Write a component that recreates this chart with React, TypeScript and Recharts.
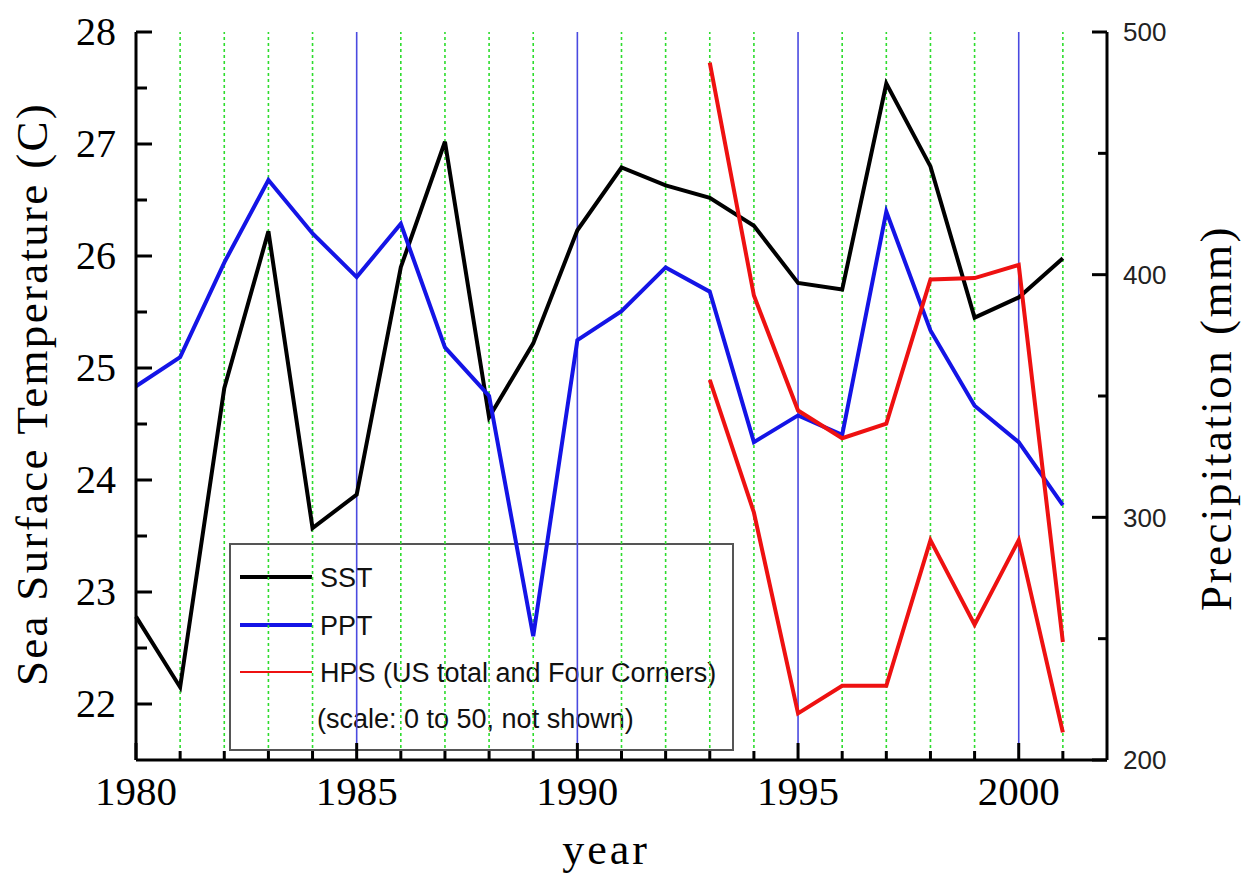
import { LineChart, Line, XAxis, YAxis, ReferenceLine, Customized } from "recharts";

// years on the x axis
const years = [
  1980, 1981, 1982, 1983, 1984, 1985, 1986, 1987, 1988, 1989, 1990,
  1991, 1992, 1993, 1994, 1995, 1996, 1997, 1998, 1999, 2000, 2001,
];

// sea surface temperature (C), left axis
const sst = [
  22.78, 22.15, 24.82, 26.22, 23.57, 23.87, 25.9, 27.02, 24.56, 25.22, 26.23,
  26.79, 26.63, 26.52, 26.27, 25.76, 25.7, 27.54, 26.8, 25.45, 25.63, 25.98,
];

// precipitation (mm), right axis
const ppt = [
  354, 366, 405, 439, 417, 399, 421, 370, 350, 251, 373,
  385, 403, 393, 331, 342, 334, 426, 377, 346, 331, 305,
];

// HPS cases, hidden 0-50 axis
const hpsYears = [1993, 1994, 1995, 1996, 1997, 1998, 1999, 2000, 2001];
const hpsTotal = [47.9, 31.9, 24.0, 22.1, 23.1, 33.0, 33.1, 34.0, 8.1];
const hpsFourCorners = [26.1, 17.0, 3.2, 5.1, 5.1, 15.1, 9.3, 15.1, 1.9];

const xTicks = [
  1980, 1981, 1982, 1983, 1984, 1985, 1986, 1987, 1988, 1989, 1990,
  1991, 1992, 1993, 1994, 1995, 1996, 1997, 1998, 1999, 2000, 2001,
];
const sstTicks = [22, 22.5, 23, 23.5, 24, 24.5, 25, 25.5, 26, 26.5, 27, 27.5, 28];
const pptTicks = [200, 250, 300, 350, 400, 450, 500];

const legendLabels = ["SST", "PPT", "HPS (US total and Four Corners)"];
const legendNote = "(scale: 0 to 50, not shown)";

const data = years.map((year, i) => {
  const h = hpsYears.indexOf(year);
  return {
    year,
    sst: sst[i],
    ppt: ppt[i],
    hpsTotal: h >= 0 ? hpsTotal[h] : null,
    hpsFour: h >= 0 ? hpsFourCorners[h] : null,
  };
});

const SERIF = "'Liberation Serif', 'DejaVu Serif', serif";
const SANS = "'Liberation Sans', Arial, sans-serif";
const BLUE = "#1414e6";
const RED = "#ee1111";

function BottomTick(props: any) {
  const { x, y, payload } = props;
  const major = payload.value % 5 === 0;
  return (
    <g>
      <line x1={x} x2={x} y1={y} y2={y - (major ? 17 : 9)} stroke="#000" strokeWidth={3} />
      {major && (
        <text x={x} y={y + 45} textAnchor="middle" fontSize={41} fontFamily={SERIF} fill="#000">
          {payload.value}
        </text>
      )}
    </g>
  );
}

function TopTick(props: any) {
  const { x, y, payload } = props;
  const major = payload.value % 5 === 0;
  return <line x1={x} x2={x} y1={y} y2={y + (major ? 17 : 9)} stroke="#000" strokeWidth={3} />;
}

function LeftTick(props: any) {
  const { x, y, payload } = props;
  const major = Number.isInteger(payload.value);
  return (
    <g>
      <line x1={x} x2={x + (major ? 16 : 11)} y1={y} y2={y} stroke="#000" strokeWidth={3} />
      {major && (
        <text x={x - 20} y={y} dy="0.33em" textAnchor="end" fontSize={40} fontFamily={SERIF} fill="#000">
          {payload.value}
        </text>
      )}
    </g>
  );
}

function RightTick(props: any) {
  const { x, y, payload } = props;
  const major = payload.value % 100 === 0;
  return (
    <g>
      <line x1={x} x2={x - (major ? 15 : 9)} y1={y} y2={y} stroke="#000" strokeWidth={3} />
      {major && (
        <text x={x + 16} y={y} dy="0.36em" textAnchor="start" fontSize={26} fontFamily={SANS} fill="#222">
          {payload.value}
        </text>
      )}
    </g>
  );
}

function LegendBox() {
  const colors = ["#000", BLUE, RED];
  const widths = [4, 4, 2];
  const rowY = [577, 625, 672];
  return (
    <g>
      <rect x={230} y={544} width={503} height={206} fill="#fff" stroke="#555" strokeWidth={2} />
      {legendLabels.map((label, i) => (
        <g key={label}>
          <line x1={240} x2={312} y1={rowY[i]} y2={rowY[i]} stroke={colors[i]} strokeWidth={widths[i]} />
          <text x={320} y={rowY[i]} dy="0.36em" fontSize={27} fontFamily={SANS} fill="#111">
            {label}
          </text>
        </g>
      ))}
      <text x={317} y={718} dy="0.36em" fontSize={27} fontFamily={SANS} fill="#111">
        {legendNote}
      </text>
    </g>
  );
}

export default function App() {
  return (
    <div style={{ position: "absolute", left: 0, top: 0, width: 1242, height: 880, background: "#fff" }}>
      <LineChart
        width={1242}
        height={880}
        data={data}
        margin={{ top: 32, right: 35, bottom: 60, left: 36 }}
      >
        <XAxis
          dataKey="year"
          type="number"
          domain={[1980, 2002]}
          ticks={xTicks}
          interval={0}
          tickSize={0}
          tickMargin={0}
          tickLine={false}
          tick={<BottomTick />}
          height={60}
          axisLine={{ stroke: "#000", strokeWidth: 3 }}
          label={{
            value: "year",
            content: () => (
              <text x={606} y={864} textAnchor="middle" fontSize={44} letterSpacing={3} fontFamily={SERIF} fill="#000">
                year
              </text>
            ),
          }}
        />
        <XAxis
          xAxisId="top"
          dataKey="year"
          type="number"
          orientation="top"
          domain={[1980, 2002]}
          ticks={xTicks}
          interval={0}
          tickSize={0}
          tickMargin={0}
          tickLine={false}
          tick={<TopTick />}
          height={0}
          axisLine={{ stroke: "#000", strokeWidth: 3 }}
        />
        <YAxis
          yAxisId="sst"
          domain={[21.5, 28]}
          ticks={sstTicks}
          interval={0}
          width={100}
          tickSize={0}
          tickMargin={0}
          tickLine={false}
          tick={<LeftTick />}
          axisLine={{ stroke: "#000", strokeWidth: 3 }}
          label={{
            value: "Sea Surface Temperature (C)",
            content: () => (
              <text
                transform="translate(47, 394) rotate(-90)"
                textAnchor="middle"
                fontSize={45}
                letterSpacing={2.3}
                fontFamily={SERIF}
                fill="#000"
              >
                Sea Surface Temperature (C)
              </text>
            ),
          }}
        />
        <YAxis
          yAxisId="ppt"
          orientation="right"
          domain={[200, 500]}
          ticks={pptTicks}
          interval={0}
          width={100}
          tickSize={0}
          tickMargin={0}
          tickLine={false}
          tick={<RightTick />}
          axisLine={{ stroke: "#000", strokeWidth: 3 }}
          label={{
            value: "Precipitation (mm)",
            content: () => (
              <text
                transform="translate(1231, 418) rotate(-90)"
                textAnchor="middle"
                fontSize={45}
                letterSpacing={2.5}
                fontFamily={SERIF}
                fill="#000"
              >
                Precipitation (mm)
              </text>
            ),
          }}
        />
        <YAxis yAxisId="hps" domain={[0, 50]} width={0} hide />

        {xTicks
          .filter((yr) => yr > 1980)
          .map((yr) =>
            yr % 5 === 0 ? (
              <ReferenceLine key={yr} x={yr} yAxisId="sst" stroke="#4a4ae0" strokeWidth={1.6} />
            ) : (
              <ReferenceLine
                key={yr}
                x={yr}
                yAxisId="sst"
                stroke="#2edc2e"
                strokeWidth={1.6}
                strokeDasharray="3 3"
              />
            )
          )}

        <Customized component={<LegendBox />} />

        <Line yAxisId="sst" dataKey="sst" stroke="#000" strokeWidth={4} dot={false} isAnimationActive={false} />
        <Line yAxisId="ppt" dataKey="ppt" stroke={BLUE} strokeWidth={4} dot={false} isAnimationActive={false} />
        <Line yAxisId="hps" dataKey="hpsTotal" stroke={RED} strokeWidth={4} dot={false} isAnimationActive={false} />
        <Line yAxisId="hps" dataKey="hpsFour" stroke={RED} strokeWidth={4} dot={false} isAnimationActive={false} />
      </LineChart>
    </div>
  );
}
